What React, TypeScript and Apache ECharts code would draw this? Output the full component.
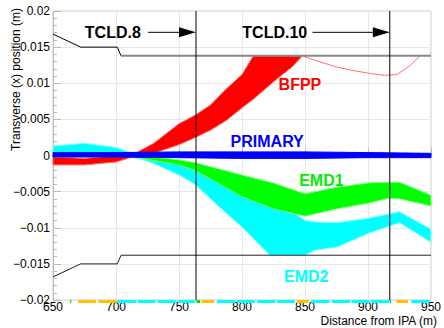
import React, { useEffect, useRef } from 'react';
import * as echarts from 'echarts';

// ---- axis ranges ----
const xRange = [650, 950];
const yRange = [-0.02, 0.02];

// ---- trajectory bundles (x, lower edge, upper edge) ----
const cyanX = [650, 675, 700, 715, 730, 750, 763, 780, 800, 822, 850, 858, 875, 900, 925, 950];
const cyanLo = [-0.0001, 0, -0.0001, -0.0002, -0.0011, -0.0027, -0.004, -0.0068, -0.0099, -0.0138, -0.0138, -0.0131, -0.0127, -0.0108, -0.0093, -0.012];
const cyanHi = [0.0013, 0.0017, 0.0011, 0.0002, -0.0002, -0.0009, -0.0016, -0.0029, -0.0043, -0.0058, -0.009, -0.0092, -0.0093, -0.0087, -0.0078, -0.0102];

const greenX = [650, 700, 720, 750, 763, 800, 825, 850, 875, 900, 917, 925, 950];
const greenLo = [-0.0002, -0.0002, -0.0004, -0.0013, -0.0021, -0.0057, -0.0074, -0.0084, -0.0074, -0.0066, -0.0059, -0.006, -0.007];
const greenHi = [0.0001, 0.0001, 0, -0.0006, -0.001, -0.0027, -0.0038, -0.0053, -0.0044, -0.0038, -0.0037, -0.0037, -0.0055];

const redX = [650, 675, 700, 715, 730, 750, 763, 775, 788, 800, 809, 827, 840, 848];
const redLo = [-0.0013, -0.0013, -0.0009, -0.0001, 0.0003, 0.0015, 0.0025, 0.0035, 0.0049, 0.0066, 0.0078, 0.0105, 0.0123, 0.0138];
const redHi = [-0.0002, -0.0004, 0, 0.0003, 0.0017, 0.0044, 0.0056, 0.007, 0.0093, 0.0112, 0.0138, 0.0138, 0.0138, 0.0138];

const redTailX = [848, 853, 874, 887, 900, 913, 923, 933, 942];
const redTailY = [0.0138, 0.01345, 0.0123, 0.0118, 0.0114, 0.0111, 0.0112, 0.0124, 0.0139];

const blueX = [650, 700, 750, 800, 850, 900, 950];
const blueLo = [-0.0002, -0.0002, -0.0003, -0.0004, -0.0004, -0.0003, -0.0003];
const blueHi = [0.0004, 0.0004, 0.0005, 0.0005, 0.0005, 0.0004, 0.0003];

// ---- aperture ----
const apertureX = [650, 672, 701, 704, 950];
const apertureUpper = [0.0168, 0.015, 0.015, 0.0138, 0.0138];
const apertureLower = [-0.0168, -0.015, -0.015, -0.0138, -0.0138];

// ---- collimator positions ----
const collimatorX = [763.5, 917.3];
const collimatorNames = ['TCLD.8', 'TCLD.10'];
const arrowStartX = [725.5, 856];
const arrowY = 0.01705;
const collimatorLabelX = [697.5, 826];

// ---- bundle labels ----
const bundleNames = ['BFPP', 'PRIMARY', 'EMD1', 'EMD2'];
const bundleLabelX = [846, 820, 863, 851];
const bundleLabelY = [0.0098, 0.002, -0.0035, -0.0167];
const bundleColors = ['#ff0000', '#0000ff', '#00ee00', '#00ffff'];

// ---- lattice elements along the bottom ----
const elemStart = [663.5, 670, 686, 701, 717.5, 733, 749, 763.8, 768, 780, 796, 812, 828, 843.5, 855, 871.4, 887, 902.6, 917.4, 922.7, 934.4];
const elemEnd = [664.5, 684, 700.5, 716.2, 731.3, 747.4, 762.5, 766.8, 778, 794.5, 810, 826.3, 842, 852.7, 869.5, 885.7, 901.3, 917.2, 918.3, 931.8, 949];
const elemKind = ['g', 'o', 'o', 'c', 'c', 'c', 'c', 'g', 'o', 'c', 'c', 'c', 'c', 'o', 'c', 'c', 'c', 'c', 'g', 'o', 'c'];
const elemColor: Record<string, string> = { g: '#00e000', o: '#ffc000', c: '#00ffff' };

const FONT = '"Liberation Sans", Arial, Helvetica, sans-serif';

function band(xs: number[], lo: number[], hi: number[], fill: string, edge: string, z: number) {
  const data = xs.map((x, i) => [x, lo[i], hi[i]]);
  return {
    type: 'custom',
    z,
    silent: true,
    data,
    encode: { x: 0, y: [1, 2] },
    renderItem: (params: any, api: any) => {
      if (params.dataIndex !== 0) return null;
      const top = data.map((d) => api.coord([d[0], d[2]]));
      const bot = data.map((d) => api.coord([d[0], d[1]])).reverse();
      return {
        type: 'polygon',
        shape: { points: top.concat(bot) },
        style: { fill, stroke: edge, lineWidth: 1 },
      };
    },
  };
}

function lineSeries(xs: number[], ys: number[], color: string, width: number, z: number) {
  return {
    type: 'line',
    z,
    silent: true,
    showSymbol: false,
    symbol: 'none',
    data: xs.map((x, i) => [x, ys[i]]),
    lineStyle: { color, width },
  };
}

export default function App() {
  const ref = useRef<HTMLDivElement>(null);
  useEffect(() => {
    const chart = echarts.init(ref.current!, null, { renderer: 'svg' });
    const fmtY = (v: number) => {
      if (Math.abs(v) < 1e-12) return '0';
      return parseFloat(v.toFixed(4)).toString().replace('-', '\u2212');
    };
    const series: any[] = [
      band(cyanX, cyanLo, cyanHi, '#00ffff', '#80ffff', 2),
      band(greenX, greenLo, greenHi, '#00ff00', '#80ff80', 2),
      band(redX, redLo, redHi, '#ff0000', '#ff7070', 2),
      lineSeries(redTailX, redTailY, '#ff7070', 1, 2),
      band(blueX, blueLo, blueHi, '#0000ff', '#0000ff', 2),
      // aperture
      lineSeries(apertureX.slice(0, 4), apertureUpper.slice(0, 4), '#000000', 1, 3),
      lineSeries(apertureX.slice(3), apertureUpper.slice(3), '#888888', 2, 3),
      lineSeries(apertureX, apertureLower, '#222222', 1, 3),
      // collimator verticals
      ...collimatorX.map((x) => lineSeries([x, x], [yRange[1], yRange[0]], '#000000', 1, 3)),
      // arrows
      {
        type: 'custom',
        z: 4,
        silent: true,
        data: collimatorX.map((x, i) => [arrowStartX[i], x, arrowY]),
        renderItem: (params: any, api: any) => {
          const p0 = api.coord([api.value(0), api.value(2)]);
          const p1 = api.coord([api.value(1), api.value(2)]);
          const hl = 17, hw = 5;
          return {
            type: 'group',
            children: [
              { type: 'line', shape: { x1: p0[0], y1: p0[1], x2: p1[0] - hl, y2: p1[1] }, style: { stroke: '#000', lineWidth: 1 } },
              { type: 'polygon', shape: { points: [[p1[0] - hl, p1[1] - hw], [p1[0], p1[1]], [p1[0] - hl, p1[1] + hw]] }, style: { fill: '#000' } },
            ],
          };
        },
      },
      // collimator labels
      {
        type: 'custom',
        z: 4,
        silent: true,
        data: collimatorLabelX.map((x) => [x, arrowY]),
        renderItem: (params: any, api: any) => {
          const p = api.coord([api.value(0), api.value(1)]);
          return {
            type: 'text',
            x: p[0],
            y: p[1],
            style: { text: collimatorNames[params.dataIndex], fill: '#000', fontSize: 16, fontWeight: 'bold', fontFamily: FONT, align: 'center', verticalAlign: 'middle' },
          };
        },
      },
      // bundle labels
      {
        type: 'custom',
        z: 4,
        silent: true,
        data: bundleLabelX.map((x, i) => [x, bundleLabelY[i]]),
        renderItem: (params: any, api: any) => {
          const p = api.coord([api.value(0), api.value(1)]);
          return {
            type: 'text',
            x: p[0],
            y: p[1],
            style: { text: bundleNames[params.dataIndex], fill: bundleColors[params.dataIndex], fontSize: 16, fontWeight: 'bold', fontFamily: FONT, align: 'center', verticalAlign: 'middle' },
          };
        },
      },
      // lattice elements
      {
        type: 'custom',
        z: 5,
        silent: true,
        data: elemStart.map((s, i) => [s, elemEnd[i], yRange[0]]),
        renderItem: (params: any, api: any) => {
          const p0 = api.coord([api.value(0), api.value(2)]);
          const p1 = api.coord([api.value(1), api.value(2)]);
          return {
            type: 'rect',
            shape: { x: p0[0], y: p0[1], width: Math.max(1, p1[0] - p0[0]), height: 3 },
            style: { fill: elemColor[elemKind[params.dataIndex]] },
          };
        },
      },
    ];

    chart.setOption({
      animation: false,
      textStyle: { fontFamily: FONT },
      grid: { left: 53, right: 7, top: 11, bottom: 28, show: true, borderColor: '#cccccc', borderWidth: 1, backgroundColor: 'transparent' },
      xAxis: {
        type: 'value',
        min: xRange[0],
        max: xRange[1],
        interval: 50,
        axisLine: { show: true, lineStyle: { color: '#bbbbbb' } },
        axisTick: { show: true, inside: true, length: 8, lineStyle: { color: '#bbbbbb' } },
        minorTick: { show: true, splitNumber: 5, length: 4, lineStyle: { color: '#bbbbbb' } },
        splitLine: { show: true, lineStyle: { color: '#e8e8e8', width: 1 } },
        axisLabel: { color: '#000', fontSize: 12, margin: 1, fontFamily: FONT },
      },
      yAxis: {
        type: 'value',
        min: yRange[0],
        max: yRange[1],
        interval: 0.005,
        axisLine: { show: true, lineStyle: { color: '#bbbbbb' } },
        axisTick: { show: true, inside: true, length: 8, lineStyle: { color: '#bbbbbb' } },
        minorTick: { show: true, splitNumber: 5, length: 4, lineStyle: { color: '#bbbbbb' } },
        splitLine: { show: true, lineStyle: { color: '#e8e8e8', width: 1 } },
        axisLabel: { color: '#000', fontSize: 12, margin: 3, fontFamily: FONT, formatter: fmtY },
      },
      graphic: [
        {
          type: 'text',
          x: 16,
          y: 8,
          rotation: Math.PI / 2,
          style: { text: 'Transverse (x) position (m)', fill: '#000', fontSize: 12, fontFamily: FONT, align: 'right', verticalAlign: 'middle' },
        },
        {
          type: 'text',
          x: 437,
          y: 321,
          style: { text: 'Distance from IPA (m)', fill: '#000', fontSize: 12, fontFamily: FONT, align: 'right', verticalAlign: 'middle' },
        },
      ],
      series,
    });
    return () => chart.dispose();
  }, []);
  return <div ref={ref} style={{ position: 'fixed', left: 0, top: 0, width: 444, height: 328, background: '#fff' }} />;
}
